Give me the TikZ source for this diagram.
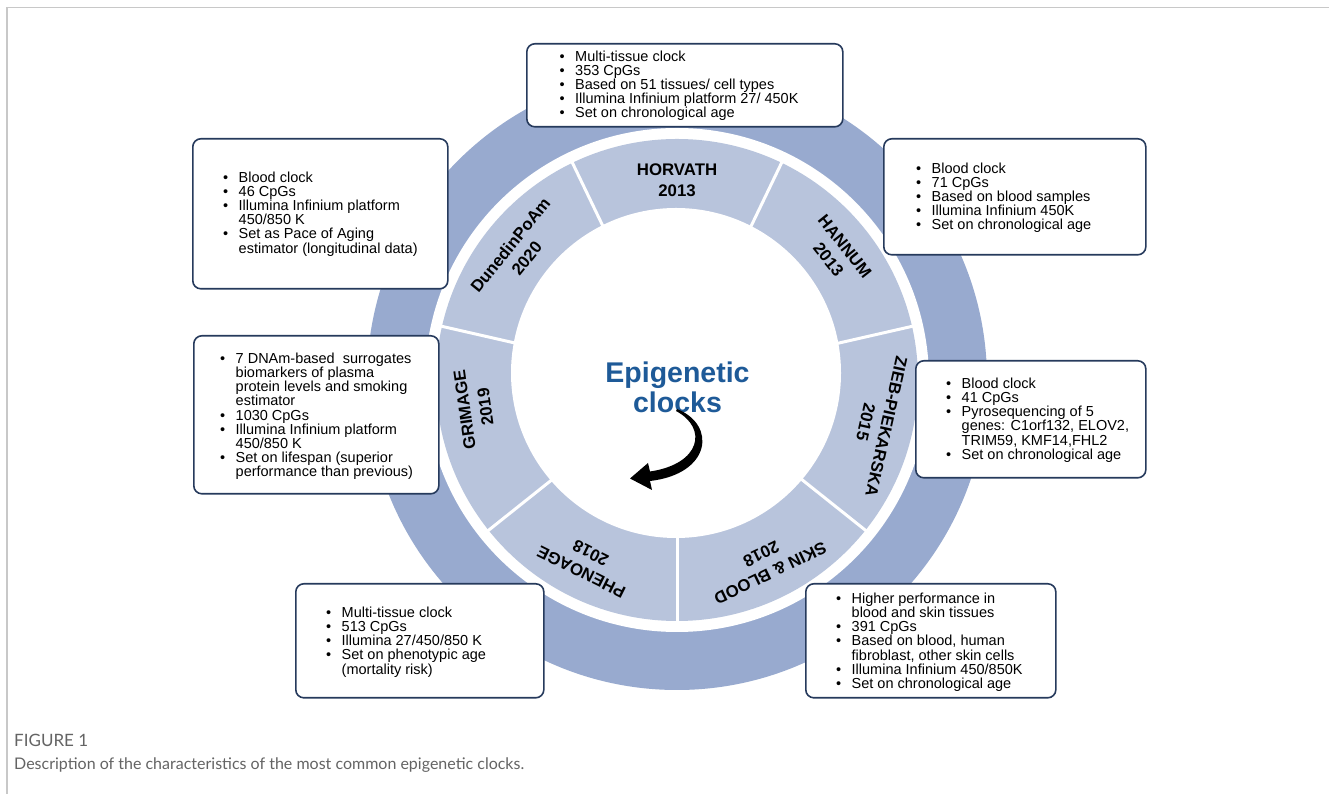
\documentclass[tikz,border=0pt]{standalone}
\usepackage{fontspec}
\setmainfont{Liberation Sans}
\newfontfamily\capfont{Lato}
\usetikzlibrary{arrows.meta,calc}
\definecolor{ringa}{RGB}{152,170,207}
\definecolor{ringb}{RGB}{134,156,198}
\definecolor{ringc}{RGB}{172,188,217}
\definecolor{seg}{RGB}{184,196,220}
\definecolor{boxline}{RGB}{38,58,92}
\definecolor{titleblue}{RGB}{30,90,152}
\definecolor{framegray}{RGB}{200,200,200}
\definecolor{capgray}{RGB}{100,100,100}
\newcommand\bul{\makebox[15.5pt][l]{\textbullet}}
\newcommand\ind{\hspace*{15.5pt}}
\pgfdeclareradialshading{ringshade}{\pgfpoint{0bp}{0bp}}{color(0bp)=(ringa); color(40.6bp)=(ringa); color(42.7bp)=(ringb); color(46bp)=(ringb); color(50bp)=(ringc)}
\begin{document}
\begin{tikzpicture}[x=1pt,y=1pt,
  box/.style={draw=boxline, line width=1.6pt, rounded corners=8pt, fill=white, anchor=north west, inner sep=0pt},
  txt/.style={anchor=north west, align=left, inner sep=0pt, font=\fontsize{14.5}{14.2}\selectfont},
  lbl/.style={align=center, inner sep=0pt, font=\bfseries\fontsize{16.8}{21}\selectfont},
  divider/.style={white, line width=3pt},
  capstyle/.style={anchor=west, inner sep=0pt, text=capgray}]
\useasboundingbox (0,0) rectangle (1329,794);
\fill[white] (0,0) rectangle (1329,794);
\draw[framegray, line width=1.5pt] (7,0) -- (7,786.5) -- (1329,786.5);

\coordinate (C) at (677,414);
\coordinate (Ci) at (676,421);
\shade[shading=ringshade] (C) circle (310);
\fill[white] (C) circle (252);
\fill[seg] (C) circle (241);
\foreach \a in {0,...,6}
  \draw[divider] ($(C)+({64.2857+\a*51.4286}:140)$) -- ($(C)+({64.2857+\a*51.4286}:248)$);
\fill[white] (Ci) circle (165);

\node[lbl] (lhor) at ($(C)+(90:200)$) {HORVATH\\2013};
\node[lbl, rotate=-51.5] (lhan) at ($(C)+(38.5:204)$) {HANNUM\\2013};
\node[lbl, rotate=-102.6] (lzieb) at ($(C)+(-12.6:204)$) {ZIEB-PIEKARSKA\\2015};
\node[lbl, rotate=-154.2] (lskin) at ($(C)+(-64.2:204)$) {SKIN \& BLOOD\\2018};
\node[lbl, rotate=153.5] (lpheno) at ($(C)+(-116.5:204)$) {PHENOAGE\\2018};
\node[lbl, rotate=98] (lgrim) at ($(C)+(188:204)$) {GRIMAGE\\2019};
\node[lbl, rotate=51] (ldun) at ($(C)+(141:204)$) {DunedinPoAm\\2020};

\node[align=center, inner sep=0pt, text=titleblue, font=\bfseries\fontsize{28.5}{30}\selectfont] (title) at (677.5,407) {Epigenetic\\clocks};
% tapered curved arrow
\coordinate (a0) at (677,385);
\coordinate (a1) at (630,315.5);
\fill[black] (a0) .. controls (717,369) and (711,320) .. (650,313)
  -- (652,304) -- (a1) -- (648,331) -- (650,322.5)
  .. controls (701,330) and (708,366) .. (676,383) -- cycle;

% boxes
\node[box, minimum width=316pt, minimum height=83pt] (b1) at (526,751) {};
\node[txt] (t1) at (559.5,743.5) {\bul Multi-tissue clock\\\bul 353 CpGs\\\bul Based on 51 tissues/ cell types\\\bul Illumina Infinium platform 27/ 450K\\\bul Set on chronological age};

\node[box, minimum width=255pt, minimum height=150pt] (b2) at (192,656) {};
\node[txt] (t2) at (223,622.5) {\bul Blood clock\\\bul 46 CpGs\\\bul Illumina Infinium platform\\\ind 450/850 K\\\bul Set as Pace of Aging\\\ind estimator (longitudinal data)};

\node[box, minimum width=262pt, minimum height=116pt] (b3) at (883,656) {};
\node[txt] (t3) at (916,631.5) {\bul Blood clock\\\bul 71 CpGs\\\bul Based on blood samples\\\bul Illumina Infinium 450K\\\bul Set on chronological age};

\node[box, minimum width=245pt, minimum height=158pt] (b4) at (193,459) {};
\node[txt] (t4) at (220,441.5) {\bul 7 DNAm-based\ \ surrogates\\\ind biomarkers of plasma\\\ind protein levels and smoking\\\ind estimator\\\bul 1030 CpGs\\\bul Illumina Infinium platform\\\ind 450/850 K\\\bul Set on lifespan (superior\\\ind performance than previous)};

\node[box, minimum width=230pt, minimum height=117pt] (b5) at (915,434) {};
\node[txt] (t5) at (946,416.5) {\bul Blood clock\\\bul 41 CpGs\\\bul Pyrosequencing of 5\\\ind genes: C1orf132, ELOV2,\\\ind TRIM59, KMF14,FHL2\\\bul Set on chronological age};

\node[box, minimum width=248pt, minimum height=114pt] (b6) at (295,211) {};
\node[txt] (t6) at (326,187.5) {\bul Multi-tissue clock\\\bul 513 CpGs\\\bul Illumina 27/450/850 K\\\bul Set on phenotypic age\\\ind (mortality risk)};

\node[box, minimum width=250pt, minimum height=114pt] (b7) at (805,211) {};
\node[txt] (t7) at (836,201.5) {\bul Higher performance in\\\ind blood and skin tissues\\\bul 391 CpGs\\\bul Based on blood, human\\\ind fibroblast, other skin cells\\\bul Illumina Infinium 450/850K\\\bul Set on chronological age};

% caption
\node[capstyle, font=\capfont\fontsize{17}{19}\selectfont] (fig) at (14,54) {FIGURE 1};
\node[capstyle, font=\capfont\fontsize{16}{18}\selectfont] (desc) at (14,29) {Description of the characteristics of the most common epigenetic clocks.};
\end{tikzpicture}
\end{document}
